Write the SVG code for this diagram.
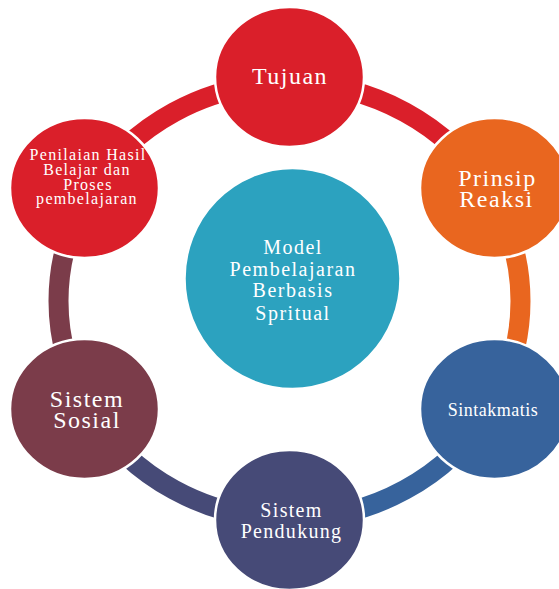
<svg xmlns="http://www.w3.org/2000/svg" width="559" height="589" viewBox="0 0 559 589">
  <style>
    .arc { fill: none; stroke-width: 20; }
    .node { stroke: #ffffff; stroke-width: 2.5; }
    text { font-family: "Liberation Serif", "Times New Roman", serif; fill: #ffffff; text-anchor: middle; }
    .big { font-size: 24px; letter-spacing: 1.5px; }
  </style>
  <rect width="559" height="589" fill="#ffffff"/>
  <g id="connectors">
    <path class="arc" stroke="#DA1F2A" d="M 289.5 83 A 231 218 0 0 1 489.55 192"/>
    <path class="arc" stroke="#E9661F" d="M 489.55 192 A 231 218 0 0 1 489.55 410"/>
    <path class="arc" stroke="#37639C" d="M 489.55 410 A 231 218 0 0 1 289.5 519"/>
    <path class="arc" stroke="#464A77" d="M 289.5 519 A 231 218 0 0 1 89.45 410"/>
    <path class="arc" stroke="#7B3C4A" d="M 89.45 410 A 231 218 0 0 1 89.45 192"/>
    <path class="arc" stroke="#DA1F2A" d="M 89.45 192 A 231 218 0 0 1 289.5 83"/>
  </g>
  <g id="center">
    <ellipse class="node" cx="292.5" cy="278.5" rx="108" ry="110.5" fill="#2CA2BF"/>
    <text font-size="20" letter-spacing="1.5"><tspan x="293" y="254">Model</tspan><tspan x="293" y="275.5">Pembelajaran</tspan><tspan x="293" y="297">Berbasis</tspan><tspan x="293" y="320">Spritual</tspan></text>
  </g>
  <g id="tujuan">
    <ellipse class="node" cx="289.5" cy="77" rx="74.5" ry="70" fill="#DA1F2A"/>
    <text class="big" x="290" y="84.3">Tujuan</text>
  </g>
  <g id="prinsip-reaksi">
    <ellipse class="node" cx="494.5" cy="188" rx="74.5" ry="70" fill="#E9661F"/>
    <text class="big" letter-spacing="1.8"><tspan x="497.5" y="185.7">Prinsip</tspan><tspan x="496.5" y="207.3">Reaksi</tspan></text>
  </g>
  <g id="sintakmatis">
    <ellipse class="node" cx="494.5" cy="409" rx="74.5" ry="70" fill="#37639C"/>
    <text font-size="18" letter-spacing="0.5" x="493" y="415.7">Sintakmatis</text>
  </g>
  <g id="sistem-pendukung">
    <ellipse class="node" cx="289.5" cy="520" rx="74.5" ry="70" fill="#464A77"/>
    <text font-size="20" letter-spacing="1.3"><tspan x="291.5" y="516.7">Sistem</tspan><tspan x="291.5" y="537.7">Pendukung</tspan></text>
  </g>
  <g id="sistem-sosial">
    <ellipse class="node" cx="84.5" cy="409" rx="74.5" ry="70" fill="#7B3C4A"/>
    <text class="big"><tspan x="87" y="406.7">Sistem</tspan><tspan x="87" y="427.7">Sosial</tspan></text>
  </g>
  <g id="penilaian">
    <ellipse class="node" cx="84.5" cy="188" rx="74.5" ry="70" fill="#DA1F2A"/>
    <text font-size="16" letter-spacing="1.3"><tspan x="88" y="160">Penilaian Hasil</tspan><tspan x="87" y="175">Belajar dan</tspan><tspan x="88" y="189.5">Proses</tspan><tspan x="87" y="204">pembelajaran</tspan></text>
  </g>
</svg>
